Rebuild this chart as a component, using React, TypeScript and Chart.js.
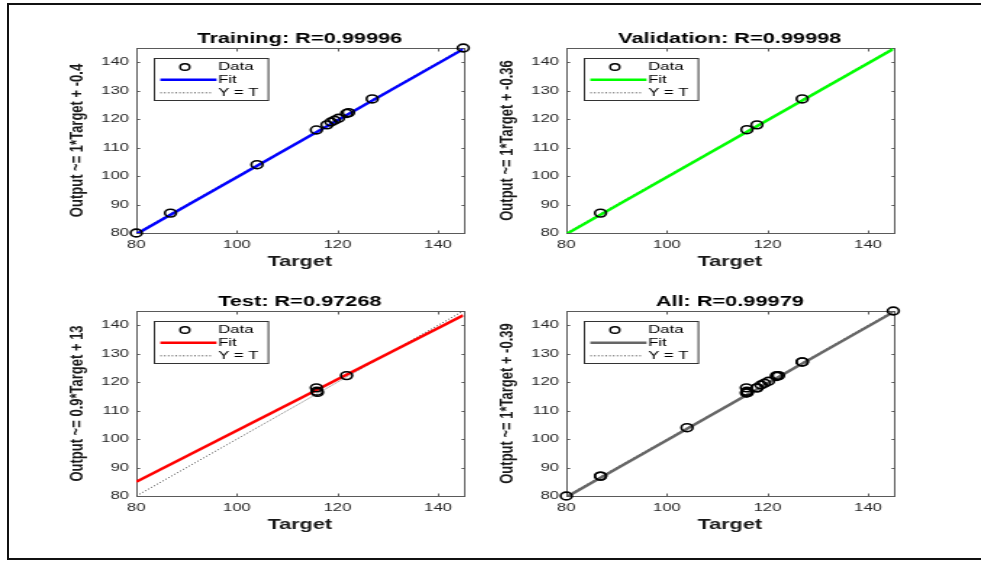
import React, { useEffect, useRef } from "react";
import { Chart, registerables } from "chart.js";

Chart.register(...registerables);

// ---------- data ----------
const AXIS_MIN = 80;
const AXIS_MAX = 145;
const xTicks = [80, 100, 120, 140];
const yTicks = [80, 90, 100, 110, 120, 130, 140];
const legendLabels = ["Data", "Fit", "Y = T"];
const xLabel = "Target";

const trainTargets = [80, 86.8, 104, 115.8, 117.9, 118.7, 119.4, 120.2, 121.8, 122.2, 126.9, 145];
const trainOutputs = [80, 87, 104, 116.2, 118, 119, 119.6, 120.3, 122, 122.3, 127.1, 145];
const valTargets = [86.8, 115.9, 117.9, 126.9];
const valOutputs = [87, 116.3, 118, 127.1];
const testTargets = [115.8, 115.9, 116, 121.8];
const testOutputs = [118, 116.8, 116.4, 122.3];
const allTargets = [...trainTargets, ...valTargets, ...testTargets];
const allOutputs = [...trainOutputs, ...valOutputs, ...testOutputs];

const fitX = [80, 145];
const trainFitY = [79.6, 144.6];
const valFitY = [79.64, 144.64];
const testFitY = [85, 143.5];
const allFitY = [79.61, 144.61];
const identityY = [80, 145];

const panelTitles = ["Training: R=0.99996", "Validation: R=0.99998", "Test: R=0.97268", "All: R=0.99979"];
const panelYLabels = [
  "Output ~= 1*Target + -0.4",
  "Output ~= 1*Target + -0.36",
  "Output ~= 0.9*Target + 13",
  "Output ~= 1*Target + -0.39",
];
const fitColors = ["#0000ff", "#00ff00", "#ff0000", "#666666"];
const panelTargets = [trainTargets, valTargets, testTargets, allTargets];
const panelOutputs = [trainOutputs, valOutputs, testOutputs, allOutputs];
const panelFits = [trainFitY, valFitY, testFitY, allFitY];

// ---------- layout ----------
const STRETCH = 1.45;
const CW = 338;
const CH = 280;
const FONT = "'Liberation Sans', Arial, Helvetica, sans-serif";
const panelPos = [
  { left: 0, top: 0 },
  { left: 430, top: 0 },
  { left: 0, top: 263 },
  { left: 430, top: 263 },
];

function makePlugin(idx: number) {
  const color = fitColors[idx];
  return {
    id: "matlabAxes" + idx,
    beforeDatasetsDraw(chart: any) {
      const { ctx, chartArea: a, scales } = chart;
      ctx.save();
      ctx.strokeStyle = "#5a5a5a";
      ctx.lineWidth = 1;
      const l = Math.round(a.left) + 0.5;
      const t = Math.round(a.top) + 0.5;
      const r = Math.round(a.right) + 0.5;
      const b = Math.round(a.bottom) + 0.5;
      ctx.strokeRect(l, t, r - l, b - t);
      ctx.beginPath();
      for (const v of xTicks) {
        const px = Math.round(scales.x.getPixelForValue(v)) + 0.5;
        ctx.moveTo(px, b);
        ctx.lineTo(px, b - 3);
        ctx.moveTo(px, t);
        ctx.lineTo(px, t + 3);
      }
      for (const v of yTicks) {
        const py = Math.round(scales.y.getPixelForValue(v)) + 0.5;
        ctx.moveTo(l, py);
        ctx.lineTo(l + 2.2, py);
        ctx.moveTo(r, py);
        ctx.lineTo(r - 2.2, py);
      }
      ctx.stroke();
      ctx.restore();
    },
    afterDatasetsDraw(chart: any) {
      const { ctx, chartArea: a } = chart;
      const lx = Math.round(a.left + 12.4) + 0.5;
      const ly = Math.round(a.top + 10) + 0.5;
      const lw = 78.6;
      const lh = 42;
      ctx.save();
      ctx.fillStyle = "#ffffff";
      ctx.fillRect(lx, ly, lw, lh);
      ctx.strokeStyle = "#333333";
      ctx.lineWidth = 1;
      ctx.strokeRect(lx, ly, lw, lh);
      const rows = [ly + 8.5, ly + 21.3, ly + 34.3];
      // Data symbol
      ctx.beginPath();
      ctx.strokeStyle = "#000000";
      ctx.lineWidth = 1.4;
      ctx.arc(lx + 21, rows[0], 3.3, 0, Math.PI * 2);
      ctx.stroke();
      // Fit symbol
      ctx.beginPath();
      ctx.strokeStyle = color;
      ctx.lineWidth = 2.5;
      ctx.moveTo(lx + 4.1, rows[1]);
      ctx.lineTo(lx + 42.8, rows[1]);
      ctx.stroke();
      // Y = T symbol
      ctx.beginPath();
      ctx.strokeStyle = "#444444";
      ctx.lineWidth = 1;
      ctx.setLineDash([1, 1.6]);
      ctx.moveTo(lx + 4.1, rows[2]);
      ctx.lineTo(lx + 40.5, rows[2]);
      ctx.stroke();
      ctx.setLineDash([]);
      ctx.fillStyle = "#000000";
      ctx.font = `11.5px ${FONT}`;
      ctx.textAlign = "left";
      ctx.textBaseline = "middle";
      legendLabels.forEach((txt, i) => ctx.fillText(txt, lx + 44, rows[i]));
      ctx.restore();
    },
    afterDraw(chart: any) {
      const { ctx, chartArea: a } = chart;
      ctx.save();
      ctx.fillStyle = "#000000";
      ctx.font = `bold 15px ${FONT}`;
      ctx.textAlign = "center";
      ctx.textBaseline = "alphabetic";
      ctx.fillText(panelTitles[idx], (a.left + a.right) / 2, a.top - 5);
      ctx.restore();
    },
  };
}

function Panel({ idx }: { idx: number }) {
  const ref = useRef<HTMLCanvasElement | null>(null);
  useEffect(() => {
    const canvas = ref.current;
    if (!canvas) return;
    const targets = panelTargets[idx];
    const outputs = panelOutputs[idx];
    const fit = panelFits[idx];
    const chart = new Chart(canvas, {
      type: "scatter",
      data: {
        datasets: [
          {
            type: "scatter",
            label: legendLabels[0],
            data: targets.map((t, i) => ({ x: t, y: outputs[i] })),
            pointStyle: "circle",
            pointRadius: 3.9,
            pointBorderWidth: 1.6,
            borderColor: "#000000",
            backgroundColor: "rgba(0,0,0,0)",
            clip: false,
          } as any,
          {
            type: "line",
            label: legendLabels[1],
            data: fitX.map((x, i) => ({ x, y: fit[i] })),
            borderColor: fitColors[idx],
            borderWidth: 2.5,
            pointRadius: 0,
            fill: false,
          } as any,
          {
            type: "line",
            label: legendLabels[2],
            data: fitX.map((x, i) => ({ x, y: identityY[i] })),
            borderColor: "#444444",
            borderWidth: 1,
            borderDash: [1, 1.6],
            pointRadius: 0,
            fill: false,
          } as any,
        ],
      },
      options: {
        responsive: false,
        animation: false,
        events: [],
        devicePixelRatio: 1,
        layout: { padding: { left: 46, top: 48, right: 18.5, bottom: 9 } },
        plugins: {
          legend: { display: false },
          tooltip: { enabled: false },
          title: { display: false },
        },
        scales: {
          x: {
            type: "linear",
            min: AXIS_MIN,
            max: AXIS_MAX,
            grid: { display: false, drawTicks: false },
            border: { display: false },
            afterBuildTicks: (scale: any) => {
              scale.ticks = xTicks.map((v) => ({ value: v }));
            },
            afterFit: (scale: any) => {
              scale.height = 38;
            },
            ticks: {
              autoSkip: false,
              maxRotation: 0,
              padding: 5,
              color: "#262626",
              font: { family: FONT, size: 11.5 },
            },
            title: {
              display: true,
              text: xLabel,
              color: "#1a1a1a",
              padding: 0,
              font: { family: FONT, size: 15, weight: "bold" },
            },
          },
          y: {
            type: "linear",
            min: AXIS_MIN,
            max: AXIS_MAX,
            grid: { display: false, drawTicks: false },
            border: { display: false },
            afterBuildTicks: (scale: any) => {
              scale.ticks = yTicks.map((v) => ({ value: v }));
            },
            afterFit: (scale: any) => {
              scale.width = 48;
            },
            ticks: {
              autoSkip: false,
              padding: 5,
              color: "#262626",
              font: { family: FONT, size: 11.5 },
            },
            title: {
              display: true,
              text: panelYLabels[idx],
              color: "#1a1a1a",
              padding: 0,
              font: { family: FONT, size: 13, weight: "bold" },
            },
          },
        },
      } as any,
      plugins: [makePlugin(idx)],
    });
    return () => chart.destroy();
  }, [idx]);
  const pos = panelPos[idx];
  return (
    <canvas
      ref={ref}
      width={CW}
      height={CH}
      style={{
        position: "absolute",
        left: pos.left,
        top: pos.top,
        width: CW,
        height: CH,
        transform: `scaleX(${STRETCH})`,
        transformOrigin: "0 0",
      }}
    />
  );
}

export default function App() {
  return (
    <div
      style={{
        position: "fixed",
        left: 0,
        top: 0,
        width: 981,
        height: 561,
        overflow: "hidden",
        background: "#ffffff",
      }}
    >
      <div
        style={{
          position: "absolute",
          left: 7,
          top: 3,
          width: 1000,
          height: 553,
          border: "2px solid #111111",
        }}
      />
      {[0, 1, 2, 3].map((i) => (
        <Panel key={i} idx={i} />
      ))}
    </div>
  );
}
